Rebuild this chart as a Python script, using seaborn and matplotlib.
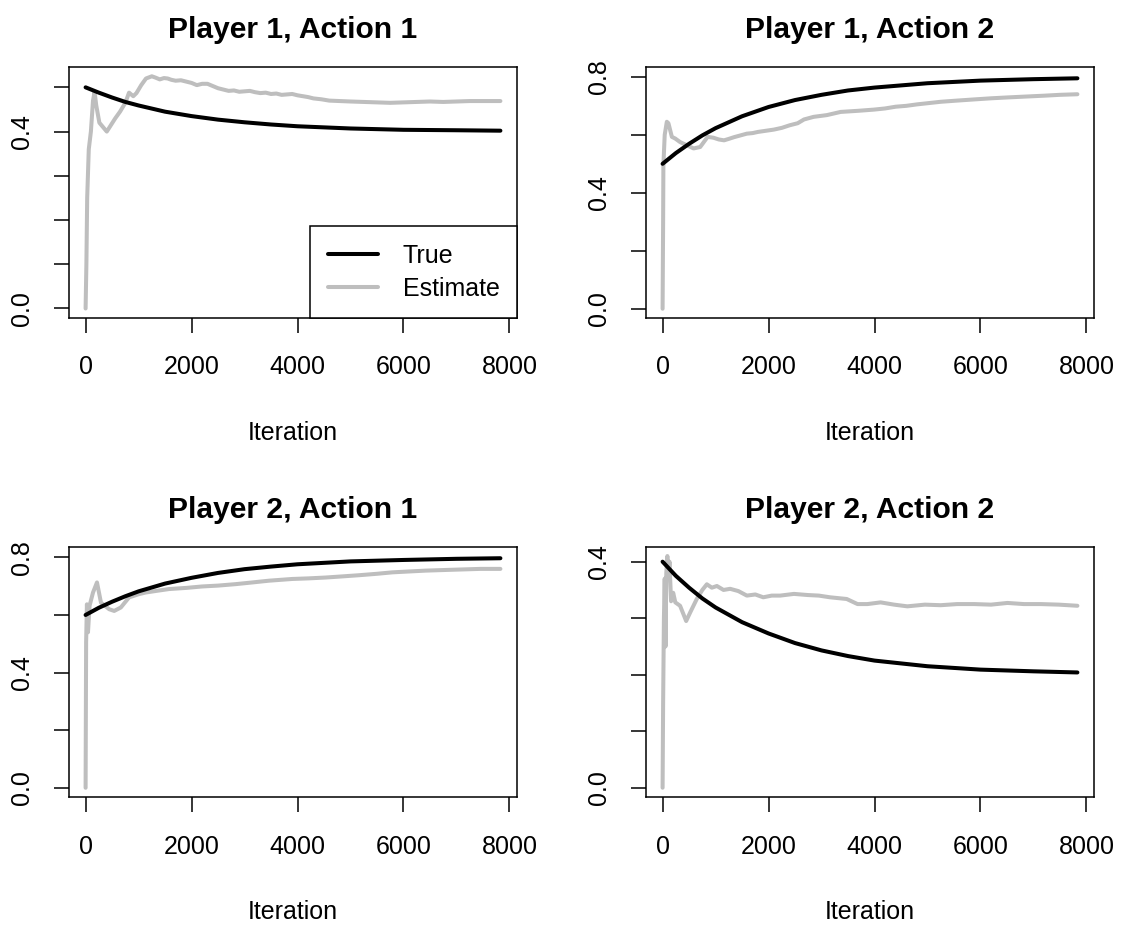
import matplotlib
matplotlib.use("Agg")
import matplotlib.pyplot as plt
from matplotlib.lines import Line2D
import seaborn as sns
import pandas as pd

# ---------------- data ----------------
iter_true = [0, 250, 500, 750, 1000, 1500, 2000, 2500, 3000, 3500, 4000,
             5000, 6000, 7000, 7830]

p1a1_true = [0.500, 0.488, 0.477, 0.467, 0.459, 0.445, 0.435, 0.427, 0.421,
             0.416, 0.412, 0.407, 0.404, 0.403, 0.402]
p1a2_true = [0.500, 0.537, 0.569, 0.598, 0.623, 0.664, 0.696, 0.720, 0.738,
             0.753, 0.763, 0.778, 0.787, 0.792, 0.795]
p2a1_true = [0.600, 0.625, 0.646, 0.665, 0.682, 0.709, 0.729, 0.746, 0.759,
             0.768, 0.776, 0.786, 0.791, 0.795, 0.797]
p2a2_true = [0.400, 0.375, 0.354, 0.335, 0.319, 0.293, 0.273, 0.256, 0.243,
             0.233, 0.225, 0.215, 0.209, 0.206, 0.204]

p1a1_est_iter = [0, 15, 30, 60, 100, 140, 170, 200, 260, 330, 400, 480, 560,
                 650, 750, 820, 900, 960, 1050, 1140, 1250, 1320, 1400, 1480,
                 1550, 1620, 1700, 1800, 1900, 2000, 2100, 2200, 2300, 2400,
                 2500, 2600, 2700, 2800, 2900, 3000, 3100, 3200, 3300, 3400,
                 3500, 3600, 3700, 3800, 3900, 4000, 4100, 4200, 4300, 4450,
                 4600, 4800, 5000, 5250, 5500, 5750, 6000, 6250, 6500, 6750,
                 7000, 7250, 7500, 7830]
p1a1_est = [0.000, 0.100, 0.250, 0.360, 0.400, 0.470, 0.490, 0.460, 0.420,
            0.410, 0.400, 0.415, 0.430, 0.445, 0.465, 0.488, 0.480, 0.487,
            0.505, 0.520, 0.525, 0.522, 0.518, 0.521, 0.520, 0.517, 0.515,
            0.516, 0.513, 0.510, 0.505, 0.508, 0.508, 0.503, 0.498, 0.495,
            0.492, 0.493, 0.490, 0.491, 0.492, 0.489, 0.487, 0.488, 0.485,
            0.486, 0.483, 0.484, 0.485, 0.482, 0.480, 0.478, 0.475, 0.473,
            0.470, 0.469, 0.468, 0.467, 0.466, 0.465, 0.466, 0.467, 0.468,
            0.467, 0.468, 0.469, 0.469, 0.469]

p1a2_est_iter = [0, 10, 15, 40, 80, 110, 175, 240, 330, 460, 585, 710, 850,
                 960, 1060, 1160, 1250, 1350, 1470, 1590, 1700, 1800, 1950,
                 2100, 2250, 2400, 2550, 2670, 2850, 3100, 3360, 3700, 3990,
                 4200, 4400, 4600, 4800, 5000, 5250, 5550, 5870, 6200, 6510,
                 6850, 7200, 7500, 7830]
p1a2_est = [0.000, 0.300, 0.495, 0.600, 0.645, 0.640, 0.593, 0.587, 0.575,
            0.564, 0.553, 0.558, 0.593, 0.590, 0.584, 0.581, 0.586, 0.592,
            0.598, 0.604, 0.606, 0.610, 0.614, 0.618, 0.624, 0.633, 0.640,
            0.653, 0.662, 0.668, 0.679, 0.683, 0.687, 0.691, 0.697, 0.700,
            0.705, 0.709, 0.714, 0.718, 0.722, 0.726, 0.729, 0.732, 0.735,
            0.738, 0.740]

p2a1_est_iter = [0, 10, 25, 45, 75, 140, 215, 290, 445, 540, 665, 820, 1000,
                 1135, 1350, 1575, 1900, 2200, 2500, 2830, 3150, 3460, 3900,
                 4200, 4530, 4850, 5160, 5500, 5790, 6100, 6420, 6750, 7100,
                 7450, 7830]
p2a1_est = [0.000, 0.505, 0.637, 0.540, 0.632, 0.678, 0.713, 0.643, 0.620,
            0.614, 0.626, 0.661, 0.672, 0.678, 0.684, 0.690, 0.694, 0.699,
            0.702, 0.707, 0.713, 0.719, 0.725, 0.727, 0.730, 0.734, 0.738,
            0.743, 0.748, 0.751, 0.754, 0.756, 0.758, 0.760, 0.760]

p2a2_est_iter = [0, 10, 25, 40, 55, 70, 90, 110, 130, 160, 200, 240, 330,
                 445, 520, 645, 750, 835, 930, 1025, 1150, 1275, 1430, 1590,
                 1750, 1900, 2060, 2220, 2480, 2740, 2950, 3160, 3475, 3680,
                 3865, 4115, 4370, 4620, 4950, 5250, 5560, 5880, 6200, 6510,
                 6820, 7140, 7480, 7830]
p2a2_est = [0.000, 0.150, 0.300, 0.370, 0.250, 0.380, 0.410, 0.370, 0.400,
            0.330, 0.345, 0.328, 0.322, 0.295, 0.310, 0.334, 0.350, 0.360,
            0.354, 0.357, 0.350, 0.352, 0.348, 0.340, 0.342, 0.337, 0.340,
            0.340, 0.343, 0.341, 0.340, 0.337, 0.334, 0.325, 0.325, 0.328,
            0.324, 0.321, 0.324, 0.323, 0.325, 0.325, 0.324, 0.327, 0.325,
            0.325, 0.324, 0.322]

titles = ["Player 1, Action 1", "Player 1, Action 2",
          "Player 2, Action 1", "Player 2, Action 2"]
x_ticks = [0, 2000, 4000, 6000, 8000]
legend_labels = ["True", "Estimate"]

panels = [
    (p1a1_true, p1a1_est_iter, p1a1_est, [0.0, 0.1, 0.2, 0.3, 0.4, 0.5], (-0.0215, 0.546)),
    (p1a2_true, p1a2_est_iter, p1a2_est, [0.0, 0.2, 0.4, 0.6, 0.8], (-0.032, 0.834)),
    (p2a1_true, p2a1_est_iter, p2a1_est, [0.0, 0.2, 0.4, 0.6, 0.8], (-0.032, 0.836)),
    (p2a2_true, p2a2_est_iter, p2a2_est, [0.0, 0.1, 0.2, 0.3, 0.4], (-0.0164, 0.426)),
]

# ---------------- style ----------------
sns.set_style("white")
plt.rcParams["font.family"] = ["Liberation Sans", "DejaVu Sans"]
plt.rcParams["text.color"] = "black"
plt.rcParams["axes.labelcolor"] = "black"
plt.rcParams["xtick.color"] = "black"
plt.rcParams["ytick.color"] = "black"

W, H = 1124, 926
fig = plt.figure(figsize=(W / 100, H / 100), dpi=100)

boxes = [(69, 67, 517, 318), (646, 67, 1094, 318),
         (69, 547, 517, 797), (646, 547, 1094, 797)]

TRUE_C = "black"
EST_C = "#BEBEBE"
LW = 2.9

for i, ((tv, ei, ev, yt, ylim), (x0, y0, x1, y1)) in enumerate(zip(panels, boxes)):
    ax = fig.add_axes([x0 / W, (H - y1) / H, (x1 - x0) / W, (y1 - y0) / H])
    df_est = pd.DataFrame({"Iteration": ei, "value": ev})
    df_true = pd.DataFrame({"Iteration": iter_true, "value": tv})
    sns.lineplot(data=df_est, x="Iteration", y="value", ax=ax, color=EST_C,
                 lw=LW, estimator=None, sort=False)
    sns.lineplot(data=df_true, x="Iteration", y="value", ax=ax, color=TRUE_C,
                 lw=LW, estimator=None, sort=False)
    ax.set_xlim(-313.2, 8143.2)
    ax.set_ylim(*ylim)
    ax.set_xticks(x_ticks)
    ax.set_xticklabels([str(t) for t in x_ticks])
    ax.set_yticks(yt)
    ylabels = [f"{v:.1f}" if round(v * 10) % 4 == 0 else "" for v in yt]
    ax.set_yticklabels(ylabels, rotation=90, va="center")
    ax.tick_params(axis="both", which="major", direction="out", length=11,
                   width=1.1, color="black", labelsize=18, labelcolor="black",
                   bottom=True, left=True, top=False, right=False)
    ax.tick_params(axis="x", pad=16)
    ax.tick_params(axis="y", pad=14)
    for s in ax.spines.values():
        s.set_visible(True)
        s.set_color("black")
        s.set_linewidth(1.1)
    ax.set_xlabel("Iteration", fontsize=18, labelpad=30, color="black")
    ax.set_ylabel("")
    ax.set_title(titles[i], fontsize=21.6, fontweight="bold", pad=21,
                 color="black")
    if i == 0:
        handles = [Line2D([], [], color=TRUE_C, lw=LW),
                   Line2D([], [], color=EST_C, lw=LW)]
        leg = ax.legend(handles, legend_labels, loc="lower right", fontsize=18,
                        frameon=True, fancybox=False, framealpha=1,
                        edgecolor="black", borderaxespad=0, handlelength=2.0,
                        handletextpad=1.0, labelspacing=0.35, borderpad=0.7)
        leg.get_frame().set_linewidth(1.1)
        for t in leg.get_texts():
            t.set_color("black")

fig.savefig("out.png", dpi=100, facecolor="white")
